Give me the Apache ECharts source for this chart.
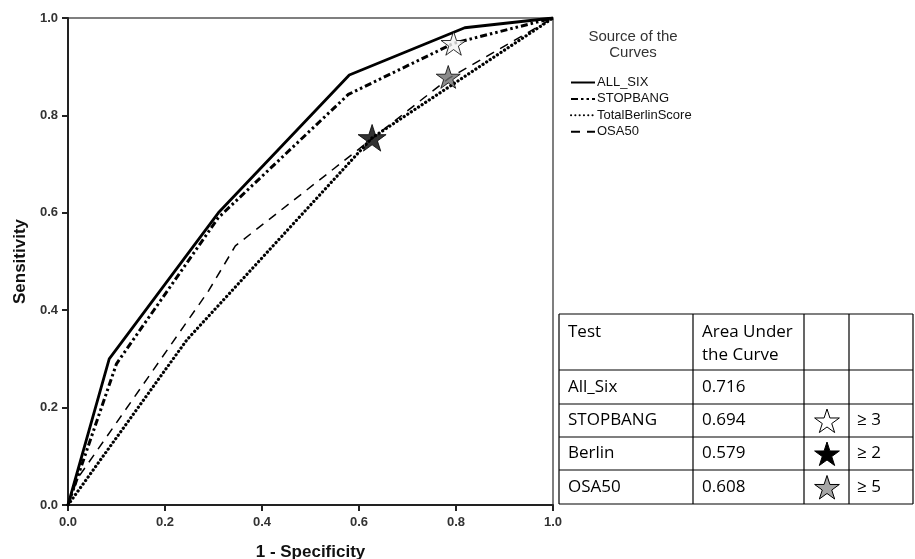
<!DOCTYPE html>
<html>
<head>
<meta charset="utf-8">
<script src="https://cdn.jsdelivr.net/npm/echarts@6/dist/echarts.min.js"></script>
<style>
html,body{margin:0;padding:0;background:#fff;}
#chart{width:915px;height:559px;}
</style>
</head>
<body>
<div id="chart"></div>
<script>
// ---- data ----
const allSix = [[0,0],[0.085,0.30],[0.31,0.60],[0.58,0.883],[0.818,0.98],[1,1]];
const stopBang = [[0,0],[0.10,0.29],[0.31,0.59],[0.578,0.843],[0.795,0.948],[1,1]];
const berlin = [[0,0],[0.245,0.339],[0.627,0.754],[1,1]];
const osa50 = [[0,0],[0.02,0.055],[0.29,0.44],[0.345,0.532],[0.55,0.692],[0.785,0.876],[1,1]];
const seriesNames = ['ALL_SIX','STOPBANG','TotalBerlinScore','OSA50'];
const starWhite = [[0.795,0.948]];
const starBlack = [[0.627,0.754]];
const starGray = [[0.784,0.879]];
const tableHeader = ['Test', 'Area Under', 'the Curve'];
const tableTests = ['All_Six','STOPBANG','Berlin','OSA50'];
const tableAUC = ['0.716','0.694','0.579','0.608'];
const tableThresh = ['','≥ 3','≥ 2','≥ 5'];
const tableStarFill = [null,'#ffffff','#000000','#a6a6a6'];

const STAR = 'M50 0 L61.2 34.5 L97.6 34.5 L68.2 55.9 L79.4 90.5 L50 69.1 L20.6 90.5 L31.8 55.9 L2.4 34.5 L38.8 34.5 Z';
function starPoints(cx, cy, R) {
  const pts = [];
  for (let k = 0; k < 10; k++) {
    const a = -Math.PI / 2 + k * Math.PI / 5;
    const r = k % 2 === 0 ? R : R * 0.382;
    pts.push([cx + r * Math.cos(a), cy + r * Math.sin(a)]);
  }
  return pts;
}

const chart = echarts.init(document.getElementById('chart'), null, {renderer:'canvas'});

// table graphics
const tX = [559, 693, 804, 849, 913];
const tY = [314, 370, 404, 437, 470, 504];
const g = [];
const border = {stroke:'#000', lineWidth:1.2};
tY.forEach(y => g.push({type:'line', shape:{x1:tX[0], y1:y, x2:tX[4], y2:y}, style:border, silent:true}));
tX.forEach(x => g.push({type:'line', shape:{x1:x, y1:tY[0], x2:x, y2:tY[5]}, style:border, silent:true}));
const tFont = {fontFamily:'Open Sans', fontSize:17, fill:'#000'};
g.push({type:'text', style:Object.assign({text:tableHeader[0], x:568, y:332, verticalAlign:'middle'}, tFont)});
g.push({type:'text', style:Object.assign({text:tableHeader[1], x:702, y:332, verticalAlign:'middle'}, tFont)});
g.push({type:'text', style:Object.assign({text:tableHeader[2], x:702, y:355, verticalAlign:'middle'}, tFont)});
tableTests.forEach((t,i) => {
  const cy = (tY[i+1] + tY[i+2]) / 2;
  g.push({type:'text', style:Object.assign({text:t, x:568, y:cy, verticalAlign:'middle'}, tFont)});
  g.push({type:'text', style:Object.assign({text:tableAUC[i], x:702, y:cy, verticalAlign:'middle'}, tFont)});
  if (tableThresh[i]) g.push({type:'text', style:Object.assign({text:tableThresh[i], x:857, y:cy, verticalAlign:'middle'}, tFont)});
  if (tableStarFill[i]) g.push({type:'polygon', shape:{points:starPoints(827, cy + 1.5, 13)}, style:{fill:tableStarFill[i], stroke:'#000', lineWidth:1}});
});
// legend title
g.push({type:'text', style:{text:'Source of the', x:633, y:37, align:'center', verticalAlign:'middle', fontFamily:'Liberation Sans', fontSize:15, fill:'#333'}});
g.push({type:'text', style:{text:'Curves', x:633, y:53, align:'center', verticalAlign:'middle', fontFamily:'Liberation Sans', fontSize:15, fill:'#333'}});

const starSeries = (name, data, fill, size) => ({
  name: name, type:'scatter', data:data, symbol:'path://'+STAR, symbolSize:size, symbolKeepAspect:true,
  itemStyle:{color:fill, borderColor:'#000', borderWidth:1}, z:10, silent:true
});
const clear = 'rgba(0,0,0,0)';

const option = {
  animation:false,
  backgroundColor:'#fff',
  grid:{left:68, right:362, top:18, bottom:54, show:true, borderColor:'#555', borderWidth:1.5,
        containLabel:false, outerBoundsMode:'none'},
  legend:{
    orient:'vertical', left:570, top:76, padding:0, itemWidth:24, itemHeight:14, itemGap:3.4,
    data:seriesNames, selectedMode:false,
    itemStyle:{color:clear, borderColor:clear, borderWidth:0},
    textStyle:{fontFamily:'Liberation Sans', fontSize:13, color:'#111', padding:[0,0,0,-3]}
  },
  xAxis:{
    type:'value', min:0, max:1, interval:0.2,
    name:'1 - Specificity', nameLocation:'middle', nameGap:39,
    nameTextStyle:{fontFamily:'Liberation Sans', fontWeight:'bold', fontSize:17, color:'#111'},
    axisLine:{show:true, lineStyle:{color:'#222', width:2}},
    axisTick:{show:true, length:6, lineStyle:{color:'#222', width:2}},
    axisLabel:{margin:11, fontFamily:'Liberation Sans', fontWeight:'bold', fontSize:13, color:'#333', formatter:v => v.toFixed(1)},
    splitLine:{show:false}
  },
  yAxis:{
    type:'value', min:0, max:1, interval:0.2,
    name:'Sensitivity', nameLocation:'middle', nameGap:34,
    nameTextStyle:{fontFamily:'Liberation Sans', fontWeight:'bold', fontSize:17, color:'#111'},
    axisLine:{show:true, lineStyle:{color:'#222', width:2}},
    axisTick:{show:true, length:6, lineStyle:{color:'#222', width:2}},
    axisLabel:{margin:10, fontFamily:'Liberation Sans', fontWeight:'bold', fontSize:13, color:'#333', formatter:v => v.toFixed(1)},
    splitLine:{show:false}
  },
  graphic:g,
  series:[
    {name:seriesNames[0], type:'line', data:allSix, symbol:'none', silent:true,
      lineStyle:{color:'#000', width:2.8, type:'solid'}, itemStyle:{color:clear}},
    {name:seriesNames[1], type:'line', data:stopBang, symbol:'none', silent:true,
      lineStyle:{color:'#000', width:3, type:[7,3,2.5,3,2.5,3]}, itemStyle:{color:clear}},
    {name:seriesNames[2], type:'line', data:berlin, symbol:'none', silent:true,
      lineStyle:{color:'#000', width:3.2, type:[0.1,4.2], cap:'round'}, itemStyle:{color:clear}},
    {name:seriesNames[3], type:'line', data:osa50, symbol:'none', silent:true,
      lineStyle:{color:'#000', width:1.5, type:[9,7]}, itemStyle:{color:clear}},
    starSeries('starW', starWhite, '#f2f2f2', 25),
    starSeries('starB', starBlack, '#000', 28),
    starSeries('starG', starGray, '#6e6e6e', 24)
  ]
};
chart.setOption(option);
</script>
</body>
</html>
